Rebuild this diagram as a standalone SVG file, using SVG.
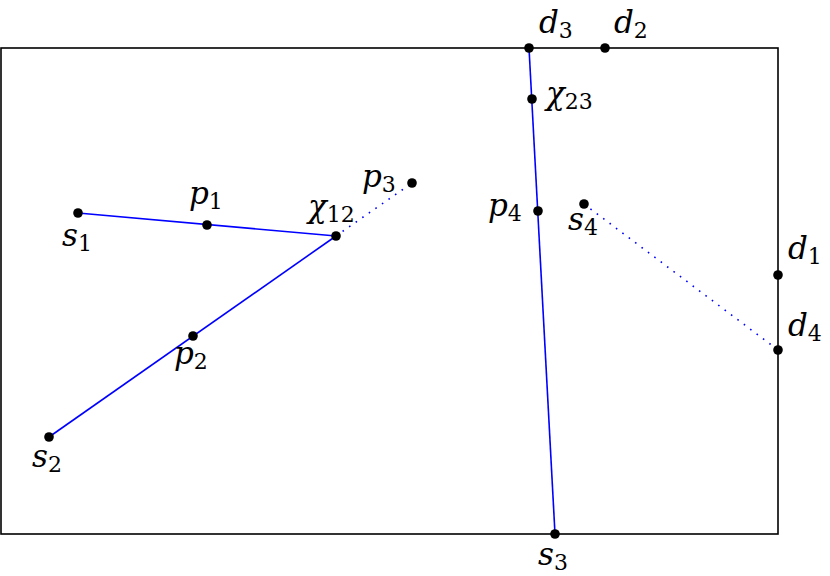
<svg xmlns="http://www.w3.org/2000/svg" width="830" height="576" viewBox="0 0 830 576">
<style>
.frame{fill:none;stroke:#000;stroke-width:1.6}
.edge{stroke:#0000ff;stroke-width:1.6;fill:none}
.dot{stroke:#0000ff;stroke-width:1.6;fill:none;stroke-dasharray:1.6 6.4}
.pt{fill:#000}
text{font-family:'DejaVu Serif','Liberation Serif',serif;font-style:italic;font-size:31px;fill:#000}
.sub{font-style:normal;font-size:22px}
</style>
<rect class="frame" x="1" y="48" width="777" height="486"/>
<g id="connectors">
<line class="edge" x1="78" y1="213" x2="336" y2="236"/>
<line class="edge" x1="49" y1="437" x2="336" y2="236"/>
<line class="dot" x1="336" y1="236" x2="412" y2="183"/>
<line class="edge" x1="529" y1="48" x2="555" y2="534"/>
<line class="dot" x1="584" y1="204" x2="778" y2="350"/>
</g>
<g id="s1"><circle class="pt" cx="78" cy="213" r="4.8"/><text x="62" y="246">s<tspan class="sub" dy="5">1</tspan></text></g>
<g id="p1"><circle class="pt" cx="207" cy="225" r="4.8"/><text x="189" y="204">p<tspan class="sub" dy="5">1</tspan></text></g>
<g id="chi12"><circle class="pt" cx="336" cy="236" r="4.8"/><text x="308" y="217">χ<tspan class="sub" dy="5">12</tspan></text></g>
<g id="p3"><circle class="pt" cx="412" cy="183" r="4.8"/><text x="362" y="187">p<tspan class="sub" dy="5">3</tspan></text></g>
<g id="p2"><circle class="pt" cx="193" cy="336" r="4.8"/><text x="174" y="364">p<tspan class="sub" dy="5">2</tspan></text></g>
<g id="s2"><circle class="pt" cx="49" cy="437" r="4.8"/><text x="32" y="467">s<tspan class="sub" dy="5">2</tspan></text></g>
<g id="d3"><circle class="pt" cx="529" cy="48" r="4.8"/><text x="539" y="33">d<tspan class="sub" dy="5">3</tspan></text></g>
<g id="d2"><circle class="pt" cx="605" cy="48" r="4.8"/><text x="614" y="33">d<tspan class="sub" dy="5">2</tspan></text></g>
<g id="chi23"><circle class="pt" cx="532" cy="99" r="4.8"/><text x="546" y="104">χ<tspan class="sub" dy="5">23</tspan></text></g>
<g id="p4"><circle class="pt" cx="538" cy="211" r="4.8"/><text x="488" y="216">p<tspan class="sub" dy="5">4</tspan></text></g>
<g id="s4"><circle class="pt" cx="584" cy="204" r="4.8"/><text x="568" y="230">s<tspan class="sub" dy="5">4</tspan></text></g>
<g id="d1"><circle class="pt" cx="778" cy="275" r="4.8"/><text x="788" y="259">d<tspan class="sub" dy="5">1</tspan></text></g>
<g id="d4"><circle class="pt" cx="778" cy="350" r="4.8"/><text x="788" y="336">d<tspan class="sub" dy="5">4</tspan></text></g>
<g id="s3"><circle class="pt" cx="555" cy="534" r="4.8"/><text x="538" y="565">s<tspan class="sub" dy="5">3</tspan></text></g>
</svg>
